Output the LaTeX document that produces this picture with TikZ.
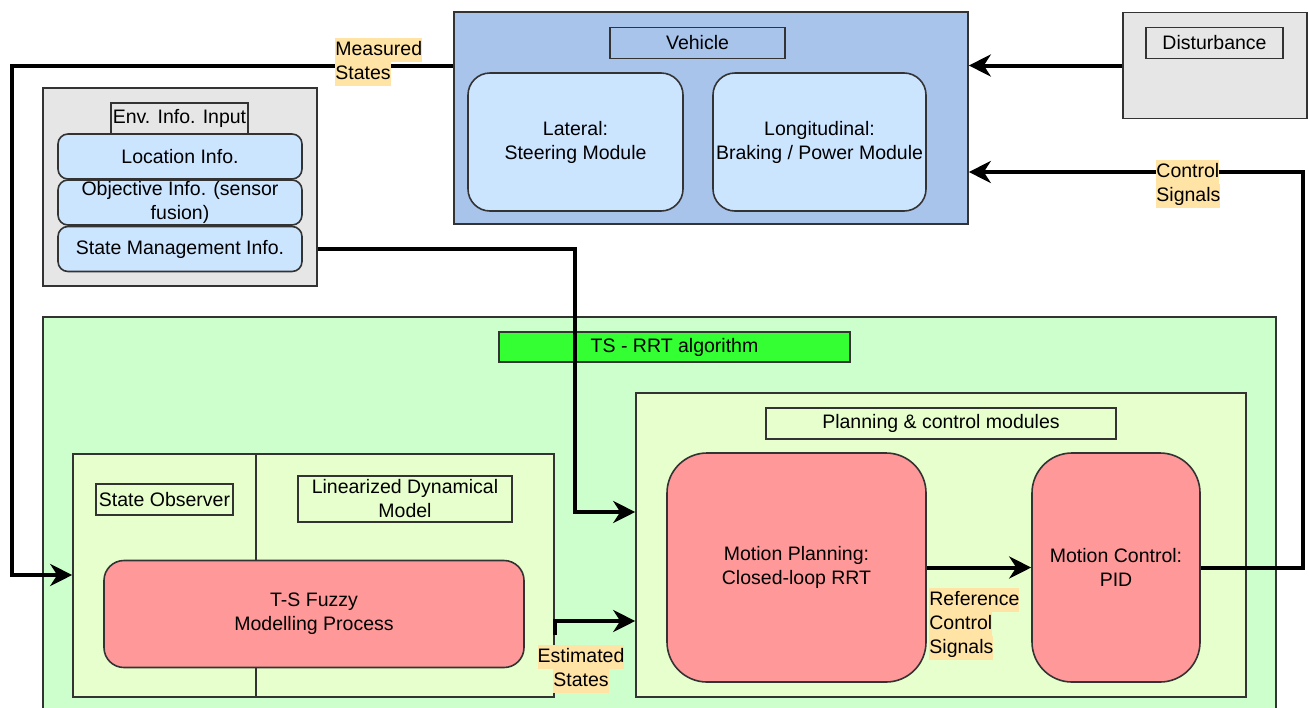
\documentclass[tikz,border=0pt]{standalone}
\usepackage{fontspec}
\setmainfont{Liberation Sans}
\usetikzlibrary{arrows.meta}
\definecolor{vehfill}{HTML}{A9C4EB}
\definecolor{ltblue}{HTML}{CCE5FF}
\definecolor{grayfill}{HTML}{E6E6E6}
\definecolor{greenfill}{HTML}{CCFFCC}
\definecolor{innergreen}{HTML}{E6FFCC}
\definecolor{brightgreen}{HTML}{33FF33}
\definecolor{salmon}{HTML}{FF9999}
\definecolor{lab}{HTML}{FFE4A6}
\definecolor{bord}{HTML}{333333}
\newcommand\hlt[1]{{\setlength{\fboxsep}{0pt}\colorbox{lab}{\strut #1}}}
\tikzset{
  base/.style={draw=bord, line width=0.8pt, inner sep=0pt, align=center, text=black},
  plainbox/.style={base, rectangle},
  titlebox/.style={base, rectangle},
  roundbox/.style={base, rounded corners=#1},
  conn/.style={line width=2pt, line join=miter},
  arr/.style={conn, -{Stealth[length=11pt,width=11pt,inset=3.5pt]}},
  lbl/.style={inner sep=0pt, align=left},
}
\begin{document}
\begin{tikzpicture}[x=0.5pt,y=-0.5pt, font=\fontsize{9.75}{12}\selectfont]
\useasboundingbox (0,0) rectangle (1309,707);
\fill[white] (0,0) rectangle (1309,707);

% Vehicle
\node[plainbox, fill=vehfill, minimum width=257pt, minimum height=106pt] (vehicle) at (711,118) {};
\node[titlebox, fill=vehfill, minimum width=87.5pt, minimum height=15.5pt] (vehtitle) at (697.5,43) {Vehicle};
\node[roundbox=11pt, fill=ltblue, minimum width=107.5pt, minimum height=69pt] (lateral) at (575.5,142) {Lateral:\\Steering Module};
\node[roundbox=11pt, fill=ltblue, minimum width=106.5pt, minimum height=69pt] (longit) at (819.5,142) {Longitudinal:\\Braking / Power Module};

% Disturbance
\node[plainbox, fill=grayfill, minimum width=92pt, minimum height=53pt] (dist) at (1215,65.5) {};
\node[titlebox, fill=grayfill, minimum width=68.5pt, minimum height=15.5pt] (disttitle) at (1214.5,43) {Disturbance};

% Env info
\node[plainbox, fill=grayfill, minimum width=137pt, minimum height=99pt] (env) at (180,187) {};
\node[titlebox, fill=grayfill, minimum width=68.5pt, minimum height=15.5pt] (envtitle) at (179.5,118.5) {Env. Info. Input};
\node[roundbox=5pt, fill=ltblue, minimum width=122pt, minimum height=22.5pt] (loc) at (180,156.5) {Location Info.};
\node[roundbox=5pt, fill=ltblue, minimum width=122pt, minimum height=22.5pt] (obj) at (180,202.5) {Objective Info. (sensor\\fusion)};
\node[roundbox=5pt, fill=ltblue, minimum width=122pt, minimum height=22.5pt] (stm) at (180,249) {State Management Info.};

% Green TS-RRT area
\node[plainbox, fill=greenfill, minimum width=616.5pt, minimum height=199pt] (green) at (659.5,516) {};
\node[titlebox, fill=brightgreen, minimum width=175.5pt, minimum height=15pt] (tsrrt) at (674.5,347) {TS - RRT algorithm};

% Observer box
\node[plainbox, fill=innergreen, minimum width=240.5pt, minimum height=121.5pt] (obsbox) at (313.5,575.5) {};
\draw[draw=bord, line width=0.8pt] (256,454) -- (256,697);
\node[titlebox, fill=innergreen, minimum width=68.5pt, minimum height=15.5pt] (stobs) at (164.5,499.5) {State Observer};
\node[titlebox, fill=innergreen, minimum width=107pt, minimum height=23pt] (lin) at (405,499) {Linearized Dynamical\\Model};
\node[roundbox=10pt, fill=salmon, minimum width=210pt, minimum height=53.5pt] (fuzzy) at (314,614) {T-S Fuzzy\\Modelling Process};

% Planning & control
\node[plainbox, fill=innergreen, minimum width=305pt, minimum height=152pt] (plan) at (941,545) {};
\node[titlebox, fill=innergreen, minimum width=175pt, minimum height=15.5pt] (plantitle) at (941,423.5) {Planning \& control modules};
\node[roundbox=20pt, fill=salmon, minimum width=129.5pt, minimum height=114.5pt] (mp) at (796.5,567.5) {Motion Planning:\\Closed-loop RRT};
\node[roundbox=20pt, fill=salmon, minimum width=84pt, minimum height=114.5pt] (mc) at (1116,567.5) {Motion Control:\\PID};

% Connectors
\draw[arr] (dist.west) -- (vehicle.east |- dist.west);
\draw[arr] (vehicle.west |- 0,66) -- (12,66) -- (12,575) -- (obsbox.west |- 0,575);
\draw[arr] (env.east |- stm.east) -- (575,249) -- (575,512) -- (plan.west |- 0,512);
\draw[arr] (obsbox.east |- 0,635) -- (obsbox.east |- 0,621) -- (plan.west |- 0,621);
\draw[arr] (mp.east) -- (mc.west);
\draw[arr] (mc.east) -- (1303,567.5) -- (1303,172) -- (vehicle.east |- 0,172);

% Labels
\node[lbl, anchor=north west] (lmeas) at (335,38) {\hlt{Measured}\\\hlt{States}};
\node[lbl, anchor=north west] (lctrl) at (1156,160) {\hlt{Control}\\\hlt{Signals}};
\node[lbl, anchor=north west] (lref) at (929,588) {\hlt{Reference}\\\hlt{Control}\\\hlt{Signals}};
\node[lbl, align=center, anchor=north] (lest) at (581,645) {\hlt{Estimated}\\\hlt{States}};
\end{tikzpicture}
\end{document}
